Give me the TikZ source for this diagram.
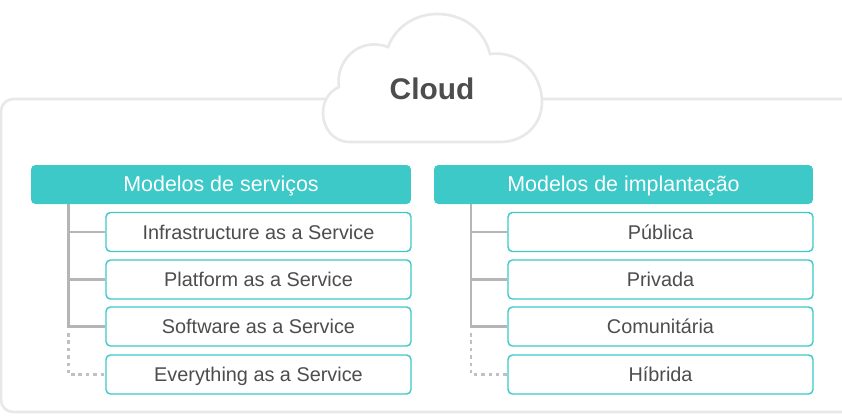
\documentclass[tikz,border=0pt]{standalone}
\usepackage{fontspec}
\setmainfont{Liberation Sans}
\usetikzlibrary{arrows.meta,positioning}
\definecolor{tealbar}{HTML}{3CC9C7}
\definecolor{framegray}{HTML}{E8E8E8}
\definecolor{trunkgray}{HTML}{B5B5B5}
\definecolor{textgray}{HTML}{4D4D4D}

\begin{document}
\begin{tikzpicture}[
    x=0.02cm, y=-0.02cm,
    header/.style={rectangle, rounded corners=2.5pt, fill=tealbar, text=white,
                   minimum width=7.6cm, minimum height=0.78cm, inner sep=0pt,
                   text height=10pt, text depth=2.6pt,
                   font=\fontsize{12.2pt}{14pt}\selectfont},
    item/.style={rectangle, rounded corners=2.5pt, draw=tealbar, line width=0.8pt, fill=white,
                 text=textgray, minimum width=6.1cm, minimum height=0.78cm, inner sep=0pt,
                 text height=11pt, text depth=2.5pt,
                 font=\fontsize{11.3pt}{14pt}\selectfont},
    branch/.style={trunkgray, line width=1.5pt},
    optional/.style={trunkgray!85, line width=1.5pt, dash pattern=on 2pt off 2.2pt},
    frame/.style={framegray, line width=1.5pt},
]
\useasboundingbox (0,0) rectangle (842,416);

% Outer frame, open on the right
\draw[frame, rounded corners=7pt] (843,99) -- (1,99) -- (1,412) -- (843,412);

% Cloud
\draw[frame, fill=white] (350,142)
    .. controls (333,142) and (323,128) .. (323,113)
    .. controls (323,100) and (330,91) .. (339,87)
    .. controls (335,62) and (358,36) .. (388,47)
    .. controls (396,26) and (416,14) .. (437,14)
    .. controls (464,14) and (484,30) .. (490,54)
    .. controls (520,50) and (542,75) .. (542,102)
    .. controls (542,125) and (524,142) .. (500,142)
    -- cycle;
\node[font=\fontsize{17pt}{20pt}\selectfont\bfseries, text=textgray] (cloud) at (432,88.5) {Cloud};

% Service models
\node[header] (services) at (221,184.5) {Modelos de serviços};
\node[item] (iaas) at (258.5,232) {Infrastructure as a Service};
\node[item] (paas) at (258.5,279.5) {Platform as a Service};
\node[item] (saas) at (258.5,326.5) {Software as a Service};
\node[item] (xaas) at (258.5,374.5) {Everything as a Service};

% Deployment models
\node[header, minimum width=7.58cm] (deploy) at (623.5,184.5) {Modelos de implantação};
\node[item] (public) at (660.5,232) {Pública};
\node[item] (private) at (660.5,279.5) {Privada};
\node[item] (community) at (660.5,326.5) {Comunitária};
\node[item] (hybrid) at (660.5,374.5) {Híbrida};

% Branches on the left
\coordinate (trunkL) at (68.3,204);
\coordinate (gapL) at (68.3,333);
\draw[branch] (trunkL) |- (saas.west);
\draw[branch] (trunkL |- iaas.west) -- (iaas.west);
\draw[branch] (trunkL |- paas.west) -- (paas.west);
\draw[optional] (gapL) |- (xaas.west);

% Branches on the right
\coordinate (trunkR) at (471,204);
\coordinate (gapR) at (471,333);
\draw[branch] (trunkR) |- (community.west);
\draw[branch] (trunkR |- public.west) -- (public.west);
\draw[branch] (trunkR |- private.west) -- (private.west);
\draw[optional] (gapR) |- (hybrid.west);
\end{tikzpicture}
\end{document}
